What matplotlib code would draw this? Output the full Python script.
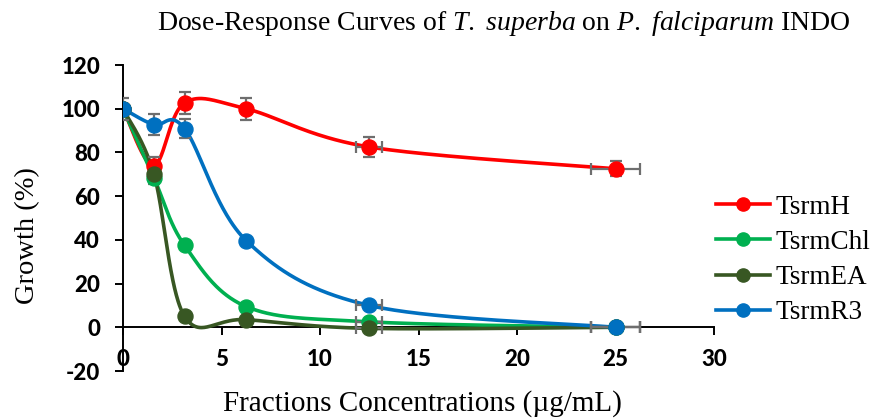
import numpy as np
import matplotlib
matplotlib.use("Agg")
import matplotlib.pyplot as plt

plt.rcParams["mathtext.fontset"] = "custom"
plt.rcParams["mathtext.rm"] = "Liberation Serif"
plt.rcParams["mathtext.it"] = "Liberation Serif:italic"

# ---- data ----
conc = [0, 1.5625, 3.125, 6.25, 12.5, 25]
series_names = ["TsrmH", "TsrmChl", "TsrmEA", "TsrmR3"]
tsrmH = [100, 74, 102.7, 100, 82.5, 72.5]
tsrmChl = [100, 68.5, 37.5, 9.5, 2.5, 0]
tsrmEA = [100, 70.3, 5, 3.5, -0.5, 0]
tsrmR3 = [100, 92.7, 90.9, 39.7, 10, 0]
yerr_H = [0, 3.7, 5, 5, 4.5, 3.5]
yerr_Chl = [0, 3, 0, 0, 0, 0]
yerr_EA = [0, 0, 0, 0, 0, 0]
yerr_R3 = [5, 4.7, 4.3, 0, 0, 0]
xerr_all = [0, 0, 0, 0, 0.65, 1.25]
colors = ["#FF0000", "#00B050", "#385723", "#0070C0"]
xticks = [0, 5, 10, 15, 20, 25, 30]
yticks = [-20, 0, 20, 40, 60, 80, 100, 120]


def smooth(xs, ys, n=60):
    """Excel-like Catmull-Rom Bezier smoothing."""
    P = np.column_stack([xs, ys]).astype(float)
    out = []
    m = len(P)
    for i in range(m - 1):
        p0 = P[i - 1] if i > 0 else P[i]
        p1 = P[i]
        p2 = P[i + 1]
        p3 = P[i + 2] if i + 2 < m else P[i + 1]
        c1 = p1 + (p2 - p0) / 6.0
        c2 = p2 - (p3 - p1) / 6.0
        t = np.linspace(0, 1, n)[:, None]
        seg = ((1 - t) ** 3) * p1 + 3 * ((1 - t) ** 2) * t * c1 + 3 * (1 - t) * t ** 2 * c2 + t ** 3 * p2
        out.append(seg if i == 0 else seg[1:])
    out = np.vstack(out)
    return out[:, 0], out[:, 1]


fig = plt.figure(figsize=(8.75, 4.19), dpi=100)
ax = fig.add_axes([123 / 875, 1 - 371 / 419, (714 - 123) / 875, (371 - 65) / 419])

all_y = [tsrmH, tsrmChl, tsrmEA, tsrmR3]
all_yerr = [yerr_H, yerr_Chl, yerr_EA, yerr_R3]

# lines
for ys, c in zip(all_y, colors):
    sx, sy = smooth(conc, ys)
    ax.plot(sx, sy, color=c, lw=2.6, zorder=3, solid_capstyle="round")

# error bars
for ys, ye in zip(all_y, all_yerr):
    ye_arr = np.array(ye, dtype=float)
    xe_arr = np.array(xerr_all, dtype=float)
    ax.errorbar(conc, ys, yerr=np.where(ye_arr > 0, ye_arr, np.nan),
                xerr=np.where(xe_arr > 0, xe_arr, np.nan),
                fmt="none", ecolor="#6E6E6E", elinewidth=1.6, capsize=4.5,
                capthick=1.6, zorder=4)

# markers
handles = []
for ys, c, name in zip(all_y, colors, series_names):
    ax.plot(conc, ys, "o", color=c, ms=10.8, zorder=5)
    h, = ax.plot([], [], "-o", color=c, lw=2.6, ms=9.5, label=name)
    handles.append(h)

ax.set_xlim(0, 30)
ax.set_ylim(-20, 120)
ax.set_xticks(xticks)
ax.set_yticks(yticks)

for s in ["top", "right"]:
    ax.spines[s].set_visible(False)
ax.spines["bottom"].set_position(("data", 0))
ax.spines["bottom"].set_linewidth(1.4)
ax.spines["left"].set_linewidth(1.4)
ax.spines["bottom"].set_zorder(2)

tick_font = dict(family="Lato", weight="black", size=16)
ax.set_xticklabels([str(v) for v in xticks], fontdict=tick_font)
ax.set_yticklabels([str(v) for v in yticks], fontdict=tick_font)
ax.tick_params(axis="x", direction="out", length=5.5, width=1.4, pad=10)
ax.tick_params(axis="y", direction="out", length=5.5, width=1.4, pad=11)

serif = "Liberation Serif"
fig.text(504 / 875, 1 - 23 / 419,
         "Dose-Response Curves of $\\mathit{T.}$ $\\mathit{superba}$ on $\\mathit{P.}$ $\\mathit{falciparum}$ INDO",
         ha="center", va="center", fontsize=20, family=serif)
fig.text(422 / 875, 1 - 404 / 419, "Fractions Concentrations (\u00b5g/mL)",
         ha="center", va="center", fontsize=21, family=serif)
fig.text(28 / 875, 1 - 236 / 419, "Growth (%)", rotation=90,
         ha="center", va="center", fontsize=20.5, family=serif)

leg = fig.legend(handles=handles, loc="center left",
                 bbox_to_anchor=(716 / 875, 1 - 260 / 419),
                 frameon=False, prop=dict(family=serif, size=19.5),
                 handlelength=2.0, handletextpad=0.2, labelspacing=0.38,
                 borderaxespad=0, borderpad=0)

fig.savefig("out.png", dpi=100)
